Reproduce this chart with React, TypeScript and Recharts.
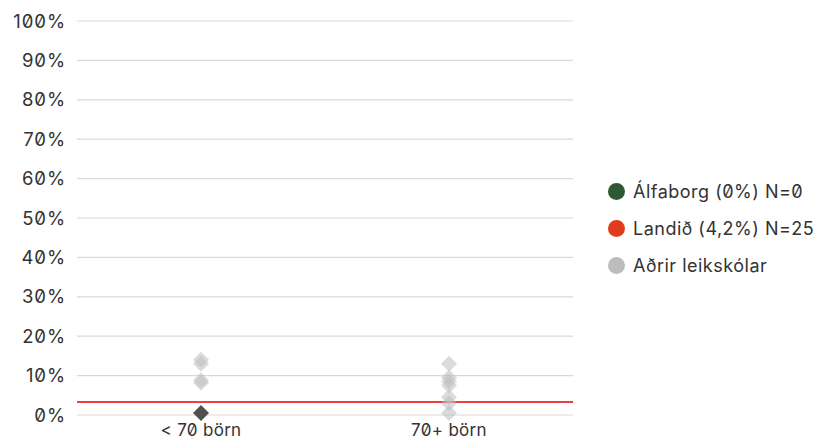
import React from 'react';
import {
  ScatterChart,
  Scatter,
  XAxis,
  YAxis,
  CartesianGrid,
  ReferenceLine,
} from 'recharts';

const categories = ['< 70 börn', '70+ börn'];
const yTicks = [0, 10, 20, 30, 40, 50, 60, 70, 80, 90, 100];

// Aðrir leikskólar (percent) per category
const othersSmall = [14, 13, 8.8, 8.2];
const othersLarge = [13, 9.5, 8.5, 7.5, 4.5, 3, 0.5];

// Álfaborg
const alfaborgCategory = '< 70 börn';
const alfaborgValue = 0.5;

// Landið line (as drawn)
const landidValue = 3.3;

const legendItems = [
  { label: 'Álfaborg (0%) N=0', color: '#2d5a32' },
  { label: 'Landið (4,2%) N=25', color: '#e03c1c' },
  { label: 'Aðrir leikskólar', color: '#bdbdbd' },
];

const othersData = [
  ...othersSmall.map(v => ({ cat: categories[0], value: v })),
  ...othersLarge.map(v => ({ cat: categories[1], value: v })),
];
const alfaborgData = [{ cat: alfaborgCategory, value: alfaborgValue }];

const Diamond = (fill: string, opacity: number) => (props: any) => {
  const { cx, cy } = props;
  const r = 8;
  return (
    <polygon
      points={`${cx},${cy - r} ${cx + r},${cy} ${cx},${cy + r} ${cx - r},${cy}`}
      fill={fill}
      fillOpacity={opacity}
    />
  );
};

const font = 'Inter, "Noto Sans", sans-serif';

export default function App() {
  return (
    <div
      style={{
        position: 'fixed',
        left: 0,
        top: 0,
        width: 832,
        height: 442,
        background: '#fff',
        fontFamily: font,
        fontFeatureSettings: '"zero" 1',
      }}
    >
      <ScatterChart
        width={832}
        height={442}
        margin={{ top: 21, right: 259, bottom: 0, left: 0 }}
      >
        <CartesianGrid vertical={false} stroke="#d9d9d9" strokeWidth={1.2} />
        <XAxis
          type="category"
          dataKey="cat"
          height={27}
          allowDuplicatedCategory={false}
          axisLine={false}
          tickLine={false}
          tickMargin={3}
          tick={{ fill: '#333', fontSize: 17, fontFamily: font, letterSpacing: 0.3 }}
        />
        <YAxis
          type="number"
          dataKey="value"
          domain={[0, 100]}
          ticks={yTicks}
          width={77}
          axisLine={false}
          tickLine={false}
          tickMargin={5}
          tickFormatter={(v: number) => `${v}%`}
          tick={{ fill: '#333', fontSize: 18.5, fontFamily: font, letterSpacing: 0.9 }}
        />
        <ReferenceLine y={landidValue} stroke="#e60000" strokeWidth={1.6} />
        <Scatter
          data={othersData}
          shape={Diamond('#bdbdbd', 0.55)}
          isAnimationActive={false}
        />
        <Scatter
          data={alfaborgData}
          shape={Diamond('#505050', 1)}
          isAnimationActive={false}
        />
      </ScatterChart>
      <div style={{ position: 'absolute', left: 608, top: 173 }}>
        {legendItems.map(item => (
          <div
            key={item.label}
            style={{
              display: 'flex',
              alignItems: 'center',
              height: 37,
              fontSize: 18,
              letterSpacing: 0.5,
              color: '#333',
            }}
          >
            <span
              style={{
                display: 'inline-block',
                width: 17,
                height: 17,
                borderRadius: '50%',
                background: item.color,
                marginRight: 8,
              }}
            />
            {item.label}
          </div>
        ))}
      </div>
    </div>
  );
}
